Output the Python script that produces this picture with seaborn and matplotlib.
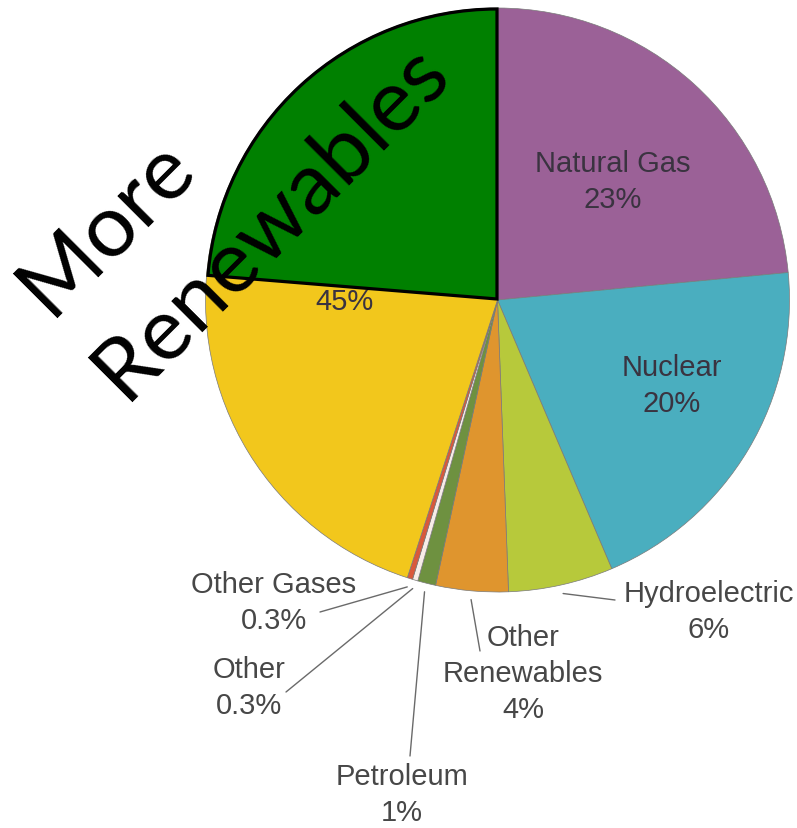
import numpy as np
import matplotlib
matplotlib.use("Agg")
import matplotlib.pyplot as plt
import seaborn as sns

# data (US electricity generation by source)
sources = ["Natural Gas", "Nuclear", "Hydroelectric", "Other\nRenewables",
           "Petroleum", "Other", "Other Gases", "Coal"]
shares = [23.5, 20.1, 5.8, 4.0, 1.0, 0.3, 0.3, 45.0]
pct_labels = ["23%", "20%", "6%", "4%", "1%", "0.3%", "0.3%", "45%"]
colors = ["#9b6197", "#4aaebf", "#b7c93b", "#df952e",
          "#6e9140", "#f7ece8", "#d9583c", "#f2c71c"]
highlight_share = 23.7   # "More Renewables" wedge
highlight_text = ["More", "Renewables"]

W, H = 797, 829
def Y(y):
    return H - y   # picture rows -> axis units

sns.set_theme(style="white")
plt.rcParams["font.family"] = ["Liberation Sans", "DejaVu Sans"]

fig = plt.figure(figsize=(W / 100, H / 100), dpi=100)
ax = fig.add_axes([0, 0, 1, 1])

cx, cy, R = 497.5, Y(301), 292
wedges, _ = ax.pie(shares, colors=colors, startangle=90, counterclock=False,
                   center=(cx, cy), radius=R, frame=True,
                   wedgeprops=dict(edgecolor="#7a7a7a", linewidth=0.5))

# labels inside the pie
inside = {0: (613, 182), 1: (672, 386), 7: (345, 284)}
for i, (x, y) in inside.items():
    ax.text(x, Y(y), f"{sources[i]}\n{pct_labels[i]}", ha="center", va="center",
            fontsize=21, color="#3a3340", linespacing=1.38, zorder=3)

# labels outside with leader lines: text centre, line end
outside = {2: ((709, 612), (615, 601)),
           3: ((523, 674), (480, 652)),
           4: ((402, 795), (410, 757)),
           5: ((249, 688), (286, 693)),
           6: ((274, 603), (320, 613))}
for i, ((tx, ty), (lx, ly)) in outside.items():
    w = wedges[i]
    mid = np.deg2rad((w.theta1 + w.theta2) / 2)
    sx, sy = cx + 1.03 * R * np.cos(mid), cy + 1.03 * R * np.sin(mid)
    ax.plot([sx, lx], [sy, Y(ly)], color="#6a6a6a", lw=1.0, zorder=2)
    ax.text(tx, Y(ty), f"{sources[i]}\n{pct_labels[i]}", ha="center", va="center",
            fontsize=21, color="#474747", linespacing=1.38, zorder=3)

# overlay wedge
hw, _ = ax.pie([highlight_share, 100 - highlight_share], colors=["#008000", "none"],
               startangle=90, counterclock=True, center=(497, Y(300)), radius=290,
               frame=True, wedgeprops=dict(edgecolor="black", linewidth=2.3))
hw[0].set_zorder(4)
hw[1].set_visible(False)

big = dict(fontsize=63, family=["Lato", "DejaVu Sans"], color="black", rotation=45,
           rotation_mode="anchor", ha="left", va="baseline", zorder=5)
ax.text(50, Y(318), highlight_text[0], **big)
ax.text(125, Y(402), highlight_text[1], **big)

ax.set_xlim(0, W)
ax.set_ylim(0, H)
ax.set_aspect("equal")
ax.axis("off")
fig.savefig("out.png", dpi=100, facecolor="white")
